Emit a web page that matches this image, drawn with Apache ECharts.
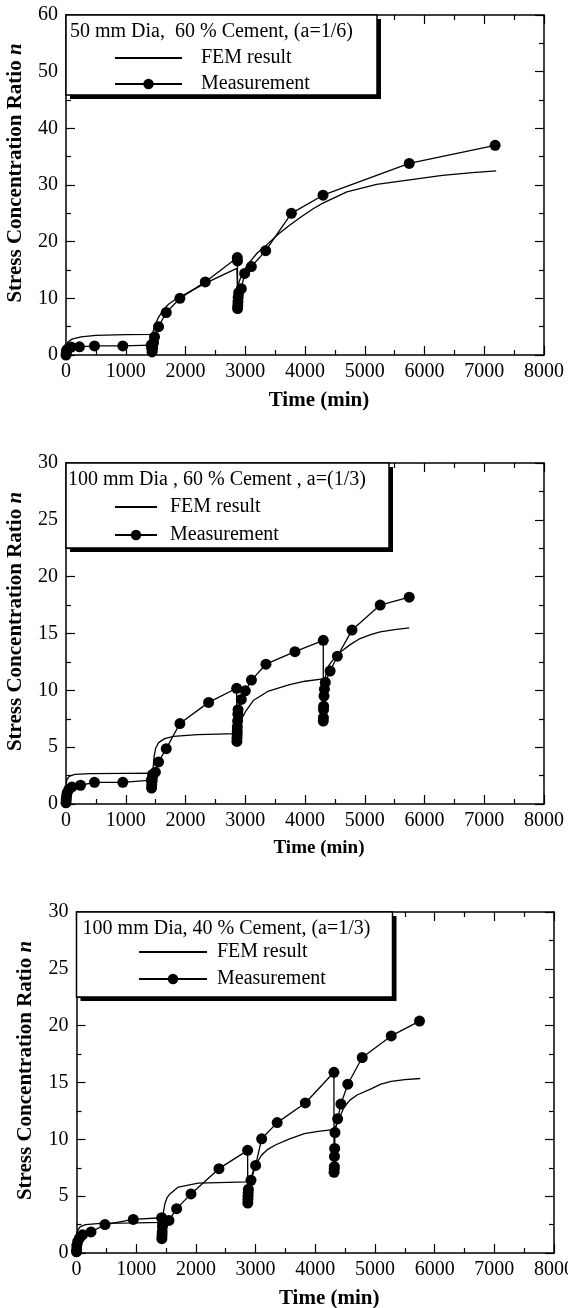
<!DOCTYPE html>
<html><head><meta charset="utf-8">
<script src="https://cdn.jsdelivr.net/npm/echarts@6/dist/echarts.min.js"></script>
<style>html,body{margin:0;padding:0;background:#fff}#c{width:568px;height:1308px}</style>
</head><body><div id="c"></div>
<script>
// ---------- data ----------
const xTickInterval = 1000;   // Time (min)
const xMax = 8000;
const yMaxes = [60, 30, 30];
const yIntervals = [10, 5, 5];
const seriesNames = ['FEM result', 'Measurement'];
const panelTitles = [
  '50 mm Dia,  60 % Cement, (a=1/6)',
  '100 mm Dia , 60 % Cement , a=(1/3)',
  '100 mm Dia, 40 % Cement, (a=1/3)'
];

// Panel 1: 50 mm, 60 % cement
const fem1 = [[0,1.5],[30,2.3],[100,2.8],[250,3.2],[500,3.45],[1000,3.6],[1440,3.65],[1460,4.2],[1490,5.2],[1540,6.5],[1622,7.9],[1720,9.0],[1817,9.7],[2040,11.0],[2320,12.6],[2600,14.0],[2860,15.3],[2870,12.0],[2920,13.6],[3000,15.3],[3074,16.4],[3200,18.0],[3347,19.3],[3550,21.3],[3742,22.9],[3950,24.5],[4150,25.9],[4300,26.8],[4700,28.8],[5200,30.1],[5750,30.9],[6300,31.7],[6800,32.2],[7200,32.5]];
const meas1 = [[0,0.0],[5,0.4],[10,0.8],[30,1.1],[87,1.4],[226,1.45],[477,1.6],[951,1.6],[1427,1.75],[1435,1.2],[1440,0.55],[1445,0.9],[1450,1.4],[1465,2.2],[1482,3.2],[1549,5.0],[1678,7.5],[1906,10.0],[2331,12.9],[2867,17.2],[2870,16.6],[2872,8.2],[2875,8.7],[2878,9.4],[2882,10.2],[2890,11.0],[2934,11.7],[2990,14.4],[3102,15.6],[3342,18.4],[3772,25.0],[4302,28.2],[5744,33.8],[7182,37.0]];

// Panel 2: 100 mm, 60 % cement
const fem2 = [[0,1.8],[20,2.2],[60,2.45],[150,2.6],[400,2.68],[1000,2.7],[1440,2.72],[1445,2.4],[1460,3.3],[1475,4.2],[1500,4.9],[1550,5.4],[1650,5.75],[1800,5.95],[2200,6.1],[2860,6.2],[2865,6.2],[2890,6.7],[2930,7.3],[2970,7.8],[3013,8.2],[3134,9.1],[3375,9.9],[3743,10.5],[4000,10.8],[4306,11.0],[4320,10.6],[4350,11.4],[4400,12.2],[4500,12.9],[4600,13.4],[4750,14.0],[4900,14.5],[5100,14.9],[5258,15.15],[5500,15.35],[5744,15.5]];
const meas2 = [[0,0.1],[5,0.4],[10,0.7],[20,1.0],[50,1.3],[100,1.5],[243,1.65],[477,1.91],[951,1.91],[1427,2.1],[1432,1.4],[1435,1.7],[1440,2.0],[1445,2.3],[1450,2.6],[1496,2.8],[1549,3.7],[1678,4.87],[1906,7.08],[2387,8.94],[2856,10.18],[2860,5.5],[2862,5.8],[2864,6.1],[2866,6.4],[2868,6.8],[2872,7.3],[2876,7.9],[2880,8.3],[2934,9.2],[3001,9.96],[3104,10.9],[3347,12.3],[3832,13.4],[4306,14.4],[4306,7.3],[4308,7.6],[4310,8.3],[4312,8.6],[4318,9.5],[4325,10.1],[4340,10.7],[4420,11.7],[4542,13.0],[4787,15.3],[5258,17.5],[5744,18.2]];

// Panel 3: 100 mm, 40 % cement
const fem3 = [[0,1.5],[20,2.0],[60,2.3],[150,2.5],[400,2.6],[1000,2.65],[1440,2.7],[1448,3.0],[1460,3.7],[1482,4.35],[1520,4.9],[1566,5.2],[1705,5.8],[2040,6.15],[2867,6.25],[2900,6.3],[2934,6.7],[2970,7.4],[3018,7.9],[3100,8.6],[3200,9.1],[3331,9.5],[3550,10.0],[3816,10.5],[4050,10.7],[4302,10.85],[4330,10.9],[4360,11.3],[4414,12.0],[4480,12.8],[4581,13.45],[4700,13.9],[4916,14.4],[5100,14.85],[5273,15.1],[5500,15.25],[5759,15.35]];
const meas3 = [[0,0.1],[3,0.3],[5,0.65],[20,1.0],[50,1.3],[100,1.6],[243,1.85],[477,2.5],[951,2.95],[1427,3.1],[1430,1.26],[1433,1.55],[1436,1.85],[1440,2.3],[1445,2.6],[1450,2.9],[1549,2.87],[1678,3.9],[1918,5.2],[2387,7.42],[2867,9.03],[2870,4.4],[2872,4.7],[2874,5.0],[2876,5.3],[2880,5.6],[2923,6.4],[3001,7.7],[3102,10.05],[3362,11.47],[3834,13.2],[4313,15.9],[4315,7.1],[4318,7.4],[4320,7.6],[4322,8.5],[4325,9.2],[4330,10.6],[4375,11.8],[4430,13.1],[4545,14.85],[4787,17.2],[5273,19.1],[5747,20.4]];

const femData = [fem1, fem2, fem3];
const measData = [meas1, meas2, meas3];

// ---------- layout ----------
const FONT = "'Liberation Serif','Times New Roman',serif";
const layout = [
  {grid:{left:66, top:15, width:478, height:340}, box:{x:66, y:15, w:311, h:80}, title:[70,32],
   legend:{left:114, top:47, w:67, gap:4, pad:14}, xname:21},
  {grid:{left:66, top:463, width:478, height:341}, box:{x:66, y:463, w:323, h:85}, title:[68,480],
   legend:{left:114, top:496, w:42, gap:6, pad:8}, xname:19},
  {grid:{left:76.5, top:912, width:477.5, height:341}, box:{x:76.5, y:912, w:316, h:85}, title:[82.6,929],
   legend:{left:138, top:941, w:68, gap:5, pad:5}, xname:21}
];

const black = '#000';
const tickStyle = {color:black, width:1.2};
function xAxisCfg(i, top) {
  return {
    type:'value', gridIndex:i, position: top ? 'top' : 'bottom',
    min:0, max:xMax, interval:xTickInterval,
    axisLine:{show:true, onZero:false, lineStyle:{color:black, width:1.5}},
    axisTick:{show:true, inside:true, length:9, lineStyle:tickStyle},
    minorTick:{show:true, splitNumber:2, length:5, lineStyle:tickStyle},
    splitLine:{show:false}, minorSplitLine:{show:false},
    axisLabel: top ? {show:false} : {show:true, color:black, fontSize:20, fontFamily:FONT, margin:7,
      hideOverlap:false, formatter: v => String(v)},
    name: top ? '' : 'Time (min)', nameLocation:'middle', nameGap:35,
    nameTextStyle:{color:black, fontFamily:FONT, fontWeight:'bold', fontSize:layout[i].xname, padding:[0,0,0,28]}
  };
}
function yAxisCfg(i, right) {
  return {
    type:'value', gridIndex:i, position: right ? 'right' : 'left',
    min:0, max:yMaxes[i], interval:yIntervals[i],
    axisLine:{show:true, onZero:false, lineStyle:{color:black, width:1.5}},
    axisTick:{show:true, inside:true, length:9, lineStyle:tickStyle},
    minorTick:{show:true, splitNumber:2, length:5, lineStyle:tickStyle},
    splitLine:{show:false}, minorSplitLine:{show:false},
    axisLabel: right ? {show:false} : {show:true, color:black, fontSize:20, fontFamily:FONT, margin:8,
      formatter: v => String(v)},
    name: right ? '' : '{a|Stress Concentration Ratio }{b|n}', nameLocation:'middle', nameGap:40, nameRotate:90,
    nameTextStyle:{padding:[0,0,0,24], rich:{
      a:{fontFamily:FONT, fontWeight:'bold', fontSize:21, color:black},
      b:{fontFamily:FONT, fontWeight:'bold', fontStyle:'italic', fontSize:21, color:black}}}
  };
}

const xAxes = [], yAxes = [], series = [], graphics = [], legends = [];
for (let i = 0; i < 3; i++) { xAxes.push(xAxisCfg(i, false)); yAxes.push(yAxisCfg(i, false)); }
for (let i = 0; i < 3; i++) { xAxes.push(xAxisCfg(i, true)); yAxes.push(yAxisCfg(i, true)); }
for (let i = 0; i < 3; i++) {
  series.push({
    name:seriesNames[0], type:'line', xAxisIndex:i, yAxisIndex:i, data:femData[i],
    symbol:'none', showSymbol:false, lineStyle:{color:black, width:1.3}, itemStyle:{color:black},
    z:3, animation:false
  });
  series.push({
    name:seriesNames[1], type:'line', xAxisIndex:i, yAxisIndex:i, data:measData[i],
    symbol:'circle', symbolSize:11, showAllSymbol:true, lineStyle:{color:black, width:1.3}, itemStyle:{color:black},
    z:4, animation:false
  });
  const L = layout[i];
  graphics.push({type:'rect', z:10, shape:{x:L.box.x+4, y:L.box.y+4, width:L.box.w, height:L.box.h}, style:{fill:black}});
  graphics.push({type:'rect', z:11, shape:{x:L.box.x, y:L.box.y, width:L.box.w, height:L.box.h}, style:{fill:'#fff', stroke:black, lineWidth:1.5}});
  graphics.push({type:'text', z:12, x:L.title[0], y:L.title[1],
    style:{text:panelTitles[i], fontFamily:FONT, fontSize:20, fill:black, verticalAlign:'middle'}});
  legends.push({
    left:L.legend.left, top:L.legend.top, orient:'vertical', padding:0,
    itemWidth:L.legend.w, itemHeight:13, itemGap:L.legend.gap, selectedMode:false, z:20,
    textStyle:{fontFamily:FONT, fontSize:20, color:black, lineHeight:22, padding:[0,0,0,L.legend.pad]},
    data:[{name:seriesNames[0], itemStyle:{opacity:0, color:'rgba(0,0,0,0)'}}, {name:seriesNames[1]}]
  });
}

const chart = echarts.init(document.getElementById('c'), null, {renderer:'canvas'});
chart.setOption({
  animation:false, backgroundColor:'#fff',
  grid: layout.map(L => Object.assign({containLabel:false, outerBoundsMode:'none'}, L.grid)),
  xAxis: xAxes, yAxis: yAxes, series: series, legend: legends, graphic: graphics
});
</script></body></html>
